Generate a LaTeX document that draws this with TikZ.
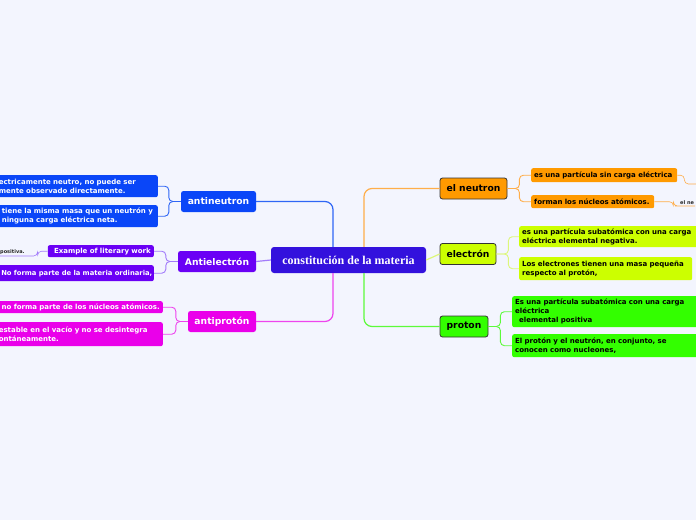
\documentclass[tikz,border=0pt]{standalone}
\usepackage{fontspec}
\setmainfont{DejaVu Sans}
\newfontfamily\rootfont{Liberation Serif}
\definecolor{bgc}{HTML}{F3F5FE}
\definecolor{rootc}{HTML}{3311DD}
\definecolor{antinc}{HTML}{0A46F8}
\definecolor{antiec}{HTML}{6A00F5}
\definecolor{antipc}{HTML}{EA00EA}
\definecolor{neutc}{HTML}{FF9A00}
\definecolor{elecc}{HTML}{CCFF00}
\definecolor{protc}{HTML}{33FF00}
\definecolor{linkan}{HTML}{2F66F5}
\definecolor{linkae}{HTML}{A27BFA}
\definecolor{linkap}{HTML}{EE44EE}
\definecolor{linkne}{HTML}{FFAE4A}
\definecolor{linkel}{HTML}{DDF77A}
\definecolor{linkpr}{HTML}{5CFA3A}

\begin{document}
\begin{tikzpicture}[x=1pt, y=-1pt, every node/.style={inner sep=0pt},
  root/.style={fill=rootc, rounded corners=3pt, text=white, font=\rootfont\bfseries\fontsize{12}{14}\selectfont, minimum width=155pt, minimum height=26pt},
  topic/.style={rounded corners=2.5pt, font=\bfseries\fontsize{9.2}{11}\selectfont, minimum height=21pt},
  ltopic/.style={topic, fill=#1, text=white},
  rtopic/.style={topic, fill=#1, draw=black!80, line width=0.8pt},
  sub/.style={rounded corners=2pt, font=\bfseries\fontsize{7}{8.8}\selectfont, align=left, inner xsep=3pt},
  tag/.style={font=\bfseries\fontsize{5}{6}\selectfont, text=black!85, inner sep=1pt},
  link/.style={line width=1.2pt, rounded corners=8pt},
  twig/.style={line width=0.9pt, rounded corners=4pt}]
	\useasboundingbox (0,0) rectangle (696,520);
	\clip (0,0) rectangle (696,520);
	\fill[bgc] (0,0) rectangle (696,520);
	% centre
	\node[root] (root) at (348.5,260) {constitución de la materia};
	% left side
	\node[ltopic=antinc, minimum width=75pt] (an) at (218.5,201.5) {antineutron};
	\node[ltopic=antiec, minimum width=78pt] (ae) at (217,261.5) {Antielectrón};
	\node[ltopic=antipc, minimum width=68pt] (ap) at (222,321.5) {antiprotón};
	\node[sub, fill=antinc, text=white, anchor=north east, text width=156pt, minimum height=22pt] (an1) at (158,175) {ectricamente neutro, no puede ser\\mente observado directamente.};
	\node[sub, fill=antinc, text=white, anchor=north east, text width=156pt, minimum height=22pt] (an2) at (158,205) {\hspace*{3pt}tiene la misma masa que un neutrón y\\\hspace*{3pt}ninguna carga eléctrica neta.};
	\node[sub, fill=antiec, text=white, anchor=north east, text width=100pt, minimum height=12pt, align=right] (ae1) at (154,245) {Example of literary work};
	\node[sub, fill=antiec, text=white, anchor=north east, text width=170pt, minimum height=16pt, align=right, inner xsep=1.5pt, font=\bfseries\fontsize{6.8}{8.8}\selectfont] (ae2) at (154,265) {No forma parte de la materia ordinaria,};
	\node[tag, anchor=south west] (ae3) at (-1,256) {positiva.};
	\node[sub, fill=antipc, text=white, anchor=north east, text width=175pt, minimum height=12pt, align=right] (ap1) at (163,301) {no forma parte de los núcleos atómicos.};
	\node[sub, fill=antipc, text=white, anchor=north east, text width=161pt, minimum height=24pt] (ap2) at (163,322) {estable en el vacío y no se desintegra\\ontáneamente.};
	% right side
	\node[rtopic=neutc, minimum width=67pt] (ne) at (473.5,188.5) {el neutron};
	\node[rtopic=elecc, minimum width=56pt] (el) at (468,254) {electrón};
	\node[rtopic=protc, minimum width=48pt] (pr) at (464,326.5) {proton};
	\node[sub, fill=neutc, anchor=north west, text width=140pt, minimum height=14pt] (ne1) at (531,168) {es una partícula sin carga eléctrica};
	\node[sub, fill=neutc, anchor=north west, text width=117pt, minimum height=13pt] (ne2) at (531,195) {forman los núcleos atómicos.};
	\node[tag, anchor=south west] (ne3) at (679,206) {el ne};
	\coordinate (ne4) at (700,184);
	\node[sub, fill=elecc, anchor=north west, text width=200pt, minimum height=21pt] (el1) at (519,226) {es una partícula subatómica con una carga\\eléctrica elemental negativa.};
	\node[sub, fill=elecc, anchor=north west, text width=167pt, minimum height=23pt] (el2) at (519,257) {Los electrones tienen una masa pequeña\\respecto al protón,};
	\node[sub, fill=protc, anchor=north west, text width=200pt, minimum height=31pt] (pr1) at (512,296) {Es una partícula subatómica con una carga\\eléctrica\\\hspace*{4pt}elemental positiva};
	\node[sub, fill=protc, anchor=north west, text width=200pt, minimum height=23pt] (pr2) at (512,334) {El protón y el neutrón, en conjunto, se\\conocen como nucleones,};
	% main branches
	\draw[link, linkan] ([xshift=-15.5pt]root.north) |- (an.east);
	\draw[link, linkae] (root.west) -- (ae.east);
	\draw[link, linkap] ([xshift=-15.5pt]root.south) |- (ap.east);
	\draw[link, linkne] ([xshift=15.5pt]root.north) |- (ne.west);
	\draw[link, linkel] (root.east) -- (el.west);
	\draw[link, linkpr] ([xshift=15.5pt]root.south) |- (pr.west);
	% sub branches
	\foreach \t/\c in {an/linkan, ae/linkae, ap/linkap}
		\foreach \k in {1,2}
			\draw[twig, \c] (\t.west) -- ++(-12,0) |- (\t\k.east);
	\foreach \t/\c in {ne/linkne, el/linkel, pr/linkpr}
		\foreach \k in {1,2}
			\draw[twig, \c] (\t.east) -- ++(12,0) |- (\t\k.west);
	\draw[twig, linkae, line width=0.6pt] (ae1.west) -- ++(-10,0) |- (ae3.south east) -- (ae3.south west);
	\draw[twig, linkne, line width=0.6pt] (ne1.east) -- ++(7,0) |- (ne4);
	\draw[twig, linkne, line width=0.6pt] (ne2.east) -- ++(19,0) |- (ne3.south west) -- (ne3.south east);
\end{tikzpicture}
\end{document}
